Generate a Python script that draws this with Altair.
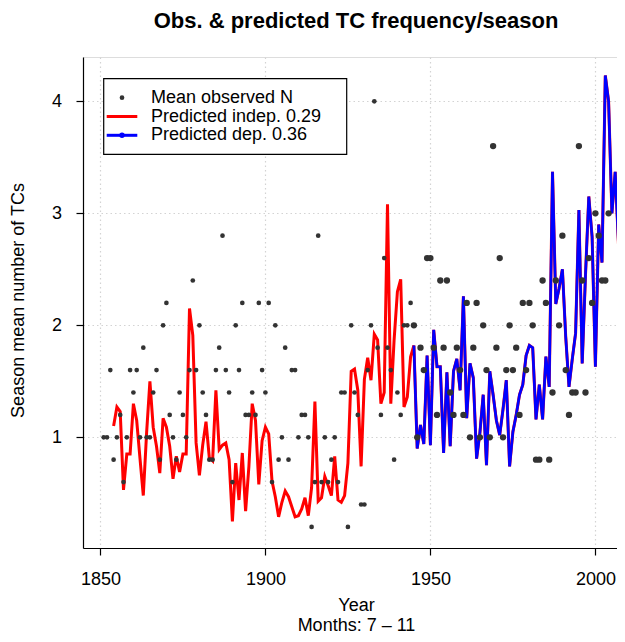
import altair as alt
import pandas as pd

# ---------------- data ----------------
obs_years = list(range(1851, 2005))
obs_mean = [
    1.0, 1.0, 1.6, 0.8, 1.0, 1.2, 0.6, 1.0, 1.6, 1.4,   # 1851-1860
    1.6, 1.0, 1.8, 1.0, 1.0, 1.4, 1.6, 0.8, 2.0, 2.2,   # 1861-1870
    1.2, 1.0, 0.8, 1.4, 1.2, 1.0, 1.6, 2.4, 1.6, 2.0,   # 1871-1880
    1.4, 1.2, 0.8, 0.8, 1.6, 1.8, 2.8, 1.6, 1.4, 0.6,   # 1881-1890
    2.0, 1.6, 2.2, 1.2, 1.2, 1.4, 1.2, 2.2, 1.6, 1.4,   # 1891-1900
    2.2, 0.6, 2.0, 0.8, 1.0, 1.8, 0.8, 1.6, 1.6, 1.0,   # 1901-1910
    1.2, 1.2, 1.0, 0.2, 0.6, 2.8, 0.6, 1.0, 0.6, 0.8,   # 1911-1920
    1.0, 0.6, 1.4, 1.4, 0.2, 2.0, 1.4, 1.2, 0.4, 0.4,   # 1921-1930
    1.6, 2.0, 4.0, 1.8, 1.2, 2.6, 1.8, 1.6, 0.8, 1.4,   # 1931-1940
    1.2, 2.0, 2.0, 2.2, 2.0, 1.0, 1.8, 1.6, 2.6, 2.6,   # 1941-1950
    1.8, 1.2, 2.4, 1.8, 2.4, 1.4, 1.2, 1.8, 1.6, 1.2,   # 1951-1960
    2.2, 1.0, 1.8, 2.2, 1.0, 2.0, 1.6, 1.0, 3.6, 1.8,   # 1961-1970
    2.6, 1.0, 1.6, 2.0, 1.6, 1.8, 1.2, 2.2, 1.6, 2.2,   # 1971-1980
    2.0, 0.8, 0.8, 2.4, 2.2, 0.8, 1.4, 2.4, 2.0, 2.8,   # 1981-1990
    1.6, 1.2, 1.4, 1.4, 3.6, 2.4, 1.4, 2.6, 2.2, 3.0,   # 1991-2000
    2.8, 2.4, 2.4, 3.0,                                 # 2001-2004
]

indep_years = list(range(1854, 2008))
pred_indep = [
    1.10, 1.27, 1.23, 0.53, 0.85, 0.85, 1.30,                   # 1854-1860
    1.15, 0.81, 0.48, 1.04, 1.50, 1.09, 0.92, 0.68, 1.17, 1.09, # 1861-1870
    0.92, 0.63, 0.83, 0.69, 0.85, 0.85, 2.15, 1.91, 0.95, 0.66, # 1871-1880
    0.93, 1.14, 0.82, 0.79, 1.42, 0.89, 0.93, 0.95, 0.80, 0.25, # 1881-1890
    0.77, 0.44, 0.86, 0.34, 0.74, 1.30, 1.15, 0.58, 0.97, 1.09, # 1891-1900
    1.03, 0.61, 0.47, 0.29, 0.42, 0.52, 0.47, 0.38, 0.29, 0.30, # 1901-1910
    0.36, 0.46, 0.30, 0.55, 1.32, 0.43, 0.46, 0.65, 0.57, 0.48, # 1911-1920
    0.83, 0.44, 0.42, 0.48, 0.77, 1.59, 1.61, 1.42, 0.74, 1.52, # 1921-1930
    1.71, 1.51, 1.92, 1.87, 1.30, 1.40, 3.08, 1.30, 1.87, 2.30, # 1931-1940
    2.41, 1.27, 1.36, 1.72, 1.82, 0.90, 1.11, 0.94, 1.73, 0.93, # 1941-1950
    1.96, 1.63, 1.63, 0.86, 1.58, 0.92, 1.59, 1.70, 1.42, 2.26, # 1951-1960
    1.17, 1.66, 1.53, 0.81, 1.04, 1.38, 0.75, 1.59, 1.38, 1.15, # 1961-1970
    1.02, 1.25, 1.51, 0.74, 1.05, 1.20, 1.38, 1.47, 1.73, 1.82, # 1971-1980
    1.80, 1.16, 1.47, 1.16, 1.72, 1.45, 3.37, 2.19, 2.33, 2.50, # 1981-1990
    1.90, 1.45, 1.70, 1.93, 3.03, 1.66, 2.45, 3.15, 2.79, 1.63, # 1991-2000
    2.90, 2.56, 4.23, 4.00, 3.00, 3.37, 2.72,                   # 2001-2007
]

dep_years = list(range(1945, 2008))
pred_dep = [
    1.82, 0.90, 1.11, 0.94, 1.73, 0.93,                         # 1945-1950
    1.96, 1.63, 1.63, 0.86, 1.58, 0.92, 1.59, 1.70, 1.42, 2.26, # 1951-1960
    1.17, 1.66, 1.53, 0.81, 1.04, 1.38, 0.75, 1.59, 1.38, 1.15, # 1961-1970
    1.02, 1.25, 1.51, 0.74, 1.05, 1.20, 1.38, 1.47, 1.73, 1.82, # 1971-1980
    1.80, 1.16, 1.47, 1.16, 1.72, 1.45, 3.37, 2.19, 2.33, 2.50, # 1981-1990
    1.90, 1.45, 1.70, 1.93, 3.03, 1.66, 2.45, 3.15, 2.79, 1.63, # 1991-2000
    2.90, 2.56, 4.23, 4.00, 3.00, 3.37, 2.72,                   # 2001-2007
]

x_ticks = [1850, 1900, 1950, 2000]
y_ticks = [1, 2, 3, 4]
legend_labels = ["Mean observed N", "Predicted indep. 0.29", "Predicted dep. 0.36"]
title_text = "Obs. & predicted TC frequency/season"
x_title = ["Year", "Months: 7 \u2013 11"]
y_title = "Season mean number of TCs"

# ---------------- layout / style ----------------
FONT = "Liberation Sans"
W, H = 534, 491
PAD = {"left": 75, "top": 49, "right": 0, "bottom": 86}
X_DOMAIN = [1844.727, 2006.545]
Y_DOMAIN = [0.0116, 4.3955]
DOT = "#333333"
RED = "#ff0000"
BLUE = "#0000ff"

obs_df = pd.DataFrame({"year": obs_years, "value": obs_mean})
indep_df = pd.DataFrame({"year": indep_years, "value": pred_indep})
dep_df = pd.DataFrame({"year": dep_years, "value": pred_dep})

x_scale = alt.Scale(domain=X_DOMAIN, nice=False, zero=False)
y_scale = alt.Scale(domain=Y_DOMAIN, nice=False, zero=False)

x_axis = alt.Axis(
    values=x_ticks, format="d", grid=True, gridColor="#d3d3d3", gridDash=[1.5, 3],
    gridWidth=1.2, tickSize=7, tickColor="black", tickWidth=1.2,
    domainColor="black", domainWidth=1.2,
    labelFont=FONT, labelFontSize=18, labelColor="black",
    labelBaseline="alphabetic", labelPadding=29.5, labelFlush=False,
    title=x_title, titleFont=FONT, titleFontSize=18, titleFontWeight="normal",
    titleColor="black", titleX=273, titleY=62.5, titleAlign="center",
    titleBaseline="alphabetic", titleLineHeight=20, titleAngle=0,
)
y_axis = alt.Axis(
    values=y_ticks, format="d", grid=True, gridColor="#d3d3d3", gridDash=[1.5, 3],
    gridWidth=1.2, tickSize=7, tickColor="black", tickWidth=1.2,
    domainColor="black", domainWidth=1.2,
    labelFont=FONT, labelFontSize=18, labelColor="black", labelAngle=0,
    labelAlign="center", labelBaseline="middle", labelPadding=19.5,
    labelFlush=False,
    title=y_title, titleFont=FONT, titleFontSize=18, titleFontWeight="normal",
    titleColor="black", titleX=-65, titleY=243, titleAngle=270,
    titleAlign="center", titleBaseline="middle",
)

x_enc = alt.X("year:Q", scale=x_scale, axis=x_axis)
y_enc = alt.Y("value:Q", scale=y_scale, axis=y_axis)

red_line = alt.Chart(indep_df).mark_line(color=RED, strokeWidth=3).encode(
    x=x_enc, y=y_enc, order="year:Q")
blue_line = alt.Chart(dep_df).mark_line(color=BLUE, strokeWidth=2.7).encode(
    x=alt.X("year:Q", scale=x_scale), y=alt.Y("value:Q", scale=y_scale), order="year:Q")

pts_small = alt.Chart(obs_df).transform_filter(alt.datum.year < 1945).mark_point(
    filled=True, color=DOT, opacity=1, size=22).encode(
    x=alt.X("year:Q", scale=x_scale), y=alt.Y("value:Q", scale=y_scale))
pts_big = alt.Chart(obs_df).transform_filter(alt.datum.year >= 1945).mark_point(
    filled=True, color=DOT, opacity=1, size=40).encode(
    x=alt.X("year:Q", scale=x_scale), y=alt.Y("value:Q", scale=y_scale))

# main title
title_mark = alt.Chart(pd.DataFrame({"t": [title_text]})).mark_text(
    align="center", baseline="alphabetic", font=FONT, fontSize=22, fontWeight="bold",
    color="black").encode(x=alt.value(273), y=alt.value(-29), text="t:N")

# ---------------- legend (drawn in pixel space) ----------------
leg_box = alt.Chart(pd.DataFrame({"k": [0]})).mark_rect(
    fill="white", stroke="black", strokeWidth=1.2).encode(
    x=alt.value(20.7), x2=alt.value(263.7), y=alt.value(21.7), y2=alt.value(97.3))

leg_layers = [leg_box]
row_y0, row_dy = 40.7, 18.8
sym_x, line_x0, line_x1, text_x = 39.0, 23.7, 54.3, 68.0
leg_colors = [DOT, RED, BLUE]
for i, lab in enumerate(legend_labels):
    ry = row_y0 + i * row_dy
    d = pd.DataFrame({"label": [lab]})
    leg_layers.append(alt.Chart(d).mark_text(
        align="left", baseline="middle", font=FONT, fontSize=18, color="black").encode(
        x=alt.value(text_x), y=alt.value(ry), text="label:N"))
    if i >= 1:
        leg_layers.append(alt.Chart(d).mark_rule(color=leg_colors[i], strokeWidth=3).encode(
            x=alt.value(line_x0), x2=alt.value(line_x1), y=alt.value(ry)))
    if i != 1:
        leg_layers.append(alt.Chart(d).mark_point(
            filled=True, opacity=1, color=leg_colors[i], size=22 if i == 0 else 30).encode(
            x=alt.value(sym_x), y=alt.value(ry)))

chart = alt.layer(red_line, blue_line, pts_small, pts_big, title_mark,
                  *leg_layers).properties(
    width=W, height=H,
    autosize=alt.AutoSizeParams(type="none"),
    padding=PAD,
).configure_view(stroke=None).configure(background="white")

chart.save("out.html", embed_options={"renderer": "svg", "actions": False})
